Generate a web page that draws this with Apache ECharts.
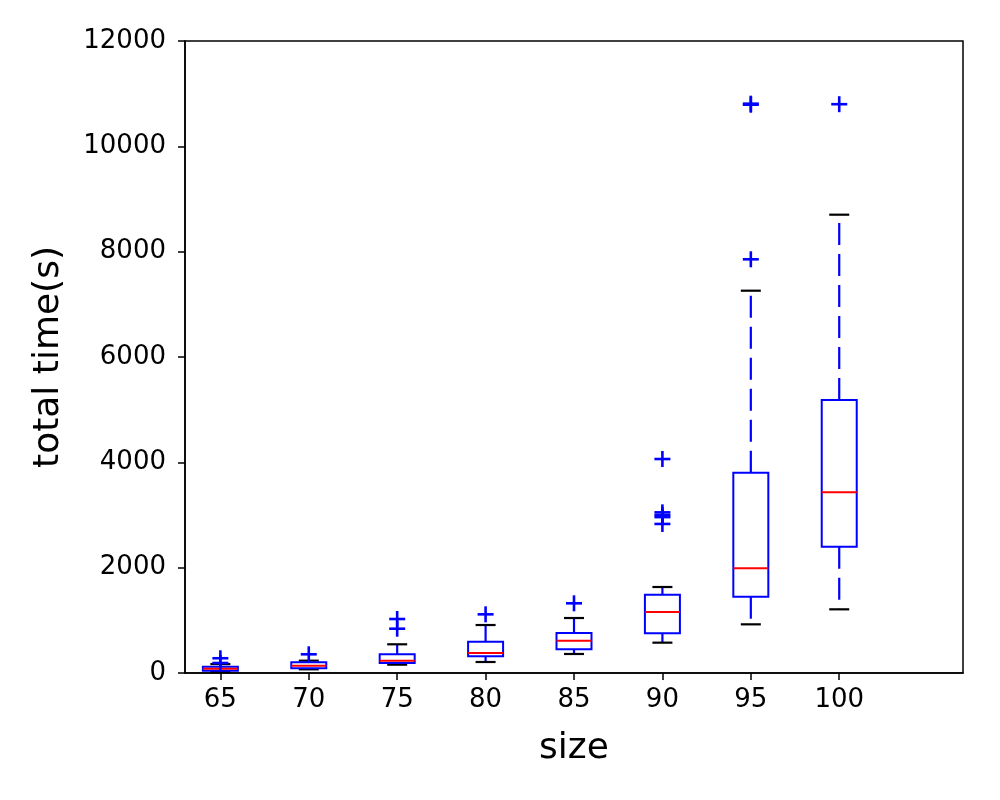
<!DOCTYPE html>
<html>
<head>
    <meta charset="utf-8">
    <title>total time vs size</title>
    <script type="text/javascript" src="https://cdn.jsdelivr.net/npm/echarts@6/dist/echarts.min.js"></script>
    <style>
        html, body { margin: 0; padding: 0; background: #fff; }
        #main { width: 1000px; height: 800px; }
    </style>
</head>
<body>
<div id="main"></div>

<script type="text/javascript">
    // box statistics per problem size
    var sizes = [65, 70, 75, 80, 85, 90, 95, 100];
    var whiskerLow = [20, 70, 158, 209, 361, 576, 924, 1209];
    var q1 = [44, 89, 190, 317, 450, 754, 1449, 2398];
    var median = [82, 139, 234, 380, 614, 1158, 1988, 3431];
    var q3 = [120, 203, 355, 594, 759, 1487, 3803, 5183];
    var whiskerHigh = [170, 234, 545, 911, 1044, 1633, 7259, 8702];
    // outliers ('+' markers), one list per size
    var outliers = [
        [190, 280],
        [355],
        [841, 1025],
        [1114],
        [1323],
        [2830, 2960, 3000, 3050, 4063],
        [7855, 10790, 10810],
        [10800]
    ];
    var yTicks = [0, 2000, 4000, 6000, 8000, 10000, 12000];

    var FONT = 'DejaVu Sans';
    var BOX_HALF = 17.5;   // px
    var CAP_HALF = 10;     // px
    var PLUS_HALF = 8;     // px

    var boxData = sizes.map(function (s, i) {
        return [s, whiskerLow[i], q1[i], median[i], q3[i], whiskerHigh[i]];
    });
    var flierData = [];
    sizes.forEach(function (s, i) {
        outliers[i].forEach(function (v) { flierData.push([s, v]); });
    });

    function seg(x1, y1, x2, y2, style) {
        return { type: 'line', shape: { x1: x1, y1: y1, x2: x2, y2: y2 }, style: style };
    }

    function renderBox(params, api) {
        var x = api.value(0);
        var pLow = api.coord([x, api.value(1)]);
        var pQ1 = api.coord([x, api.value(2)]);
        var pMed = api.coord([x, api.value(3)]);
        var pQ3 = api.coord([x, api.value(4)]);
        var pHigh = api.coord([x, api.value(5)]);
        var cx = pQ1[0];
        var whisk = { stroke: '#0000ff', lineWidth: 2.2, lineDash: [22, 9] };
        var cap = { stroke: '#000000', lineWidth: 2.2 };
        return {
            type: 'group',
            children: [
                seg(cx, pQ3[1], cx, pHigh[1], whisk),
                seg(cx, pQ1[1], cx, pLow[1], whisk),
                seg(cx - CAP_HALF, pHigh[1], cx + CAP_HALF, pHigh[1], cap),
                seg(cx - CAP_HALF, pLow[1], cx + CAP_HALF, pLow[1], cap),
                {
                    type: 'rect',
                    shape: { x: cx - BOX_HALF, y: pQ3[1], width: BOX_HALF * 2, height: pQ1[1] - pQ3[1] },
                    style: { fill: 'none', stroke: '#0000ff', lineWidth: 2 }
                },
                seg(cx - BOX_HALF, pMed[1], cx + BOX_HALF, pMed[1], { stroke: '#ff0000', lineWidth: 2 })
            ]
        };
    }

    function renderPlus(params, api) {
        var p = api.coord([api.value(0), api.value(1)]);
        var st = { stroke: '#0000ff', lineWidth: 2.6 };
        return {
            type: 'group',
            children: [
                seg(p[0] - PLUS_HALF, p[1], p[0] + PLUS_HALF, p[1], st),
                seg(p[0], p[1] - PLUS_HALF, p[0], p[1] + PLUS_HALF, st)
            ]
        };
    }

    var chart = echarts.init(document.getElementById('main'));
    var option = {
        backgroundColor: '#fff',
        animation: false,
        grid: {
            left: 185, right: 37, top: 41, bottom: 127,
            show: true, borderColor: '#000', borderWidth: 1.5, backgroundColor: 'transparent'
        },
        xAxis: {
            type: 'value',
            min: 63,
            max: 107,
            name: 'size',
            nameLocation: 'middle',
            nameGap: 58,
            nameTextStyle: { fontFamily: FONT, fontSize: 36, color: '#000' },
            splitLine: { show: false },
            axisLine: { lineStyle: { color: '#000', width: 1.5 } },
            axisTick: { show: true, length: 7, lineStyle: { color: '#000', width: 1.5 }, customValues: sizes },
            axisLabel: { fontFamily: FONT, fontSize: 26, color: '#000', margin: 14, customValues: sizes }
        },
        yAxis: {
            type: 'value',
            min: 0,
            max: 12000,
            interval: 2000,
            name: 'total time(s)',
            nameLocation: 'middle',
            nameGap: 118,
            nameTextStyle: { fontFamily: FONT, fontSize: 36, color: '#000' },
            splitLine: { show: false },
            axisLine: { show: true, lineStyle: { color: '#000', width: 1.5 } },
            axisTick: { show: true, length: 7, lineStyle: { color: '#000', width: 1.5 }, customValues: yTicks },
            axisLabel: {
                fontFamily: FONT, fontSize: 26, color: '#000', margin: 19, customValues: yTicks,
                formatter: function (v) { return String(v); }
            }
        },
        series: [
            {
                type: 'custom',
                name: 'box',
                renderItem: renderBox,
                encode: { x: 0, y: [1, 2, 3, 4, 5] },
                data: boxData,
                silent: true
            },
            {
                type: 'custom',
                name: 'outliers',
                renderItem: renderPlus,
                encode: { x: 0, y: 1 },
                data: flierData,
                silent: true
            }
        ]
    };
    chart.setOption(option);
</script>
</body>
</html>
